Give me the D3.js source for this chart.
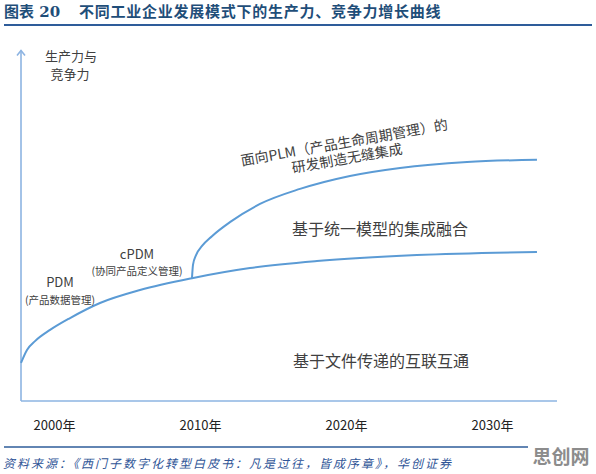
<!DOCTYPE html>
<html>
<head>
<meta charset="utf-8">
<script src="https://cdn.jsdelivr.net/npm/d3@7"></script>
<style>
  body { margin: 0; background: #fff; }
  svg { display: block; font-family: "Noto Sans CJK SC", "Noto Sans", sans-serif; }
</style>
</head>
<body>
<div id="chart"></div>
<script>
// x tick labels (years)
var years = [2000, 2010, 2020, 2030];

// file-based interconnection curve (lower)
var baseYears  = [1997.74, 1998.15, 1998.70, 1999.73, 2001.10, 2003.15, 2005.89, 2009.45, 2013.42, 2018.01, 2024.86, 2033.08];
var baseValues = [10.9, 14.6, 17.1, 20.3, 23.7, 28.0, 31.7, 35.1, 38.0, 40.0, 41.7, 42.6];

// PLM seamless integration curve (upper), branches off at ~2009.5
var plmYears  = [2009.45, 2009.52, 2009.73, 2010.14, 2010.82, 2012.05, 2014.11, 2016.85, 2020.27, 2023.70, 2028.29, 2033.08];
var plmValues = [35.1, 38.9, 41.7, 44.3, 47.1, 51.1, 56.3, 60.6, 64.3, 66.6, 68.3, 68.9];

var width = 596,
  height = 474,
  lineColor = "#5b9bd5",
  axisColor = "#8db4e2",
  textColor = "#404040";

var svg = d3.select("#chart").append("svg")
  .attr("width", width)
  .attr("height", height);

var x = d3.scaleLinear().domain([2000, 2030]).range([54, 492]);
var y = d3.scaleLinear().domain([0, 100]).range([401, 51]);

// title
svg.append("text")
  .attr("x", 4).attr("y", 17)
  .attr("fill", "#1f4e79")
  .attr("font-size", 15).attr("font-weight", "bold")
  .attr("font-family", "'DejaVu Serif', 'Noto Sans CJK SC', serif")
  .text("图表 20");
svg.append("text")
  .attr("x", 79).attr("y", 17)
  .attr("fill", "#1f4e79")
  .attr("font-size", 15).attr("font-weight", "bold")
  .style("letter-spacing", "0.75px")
  .text("不同工业企业发展模式下的生产力、竞争力增长曲线");
svg.append("line")
  .attr("x1", 4).attr("x2", 592).attr("y1", 25).attr("y2", 25)
  .attr("stroke", "#2e5c9a").attr("stroke-width", 2);

// axes frame
var x0 = x(1997.74);
svg.append("line")
  .attr("x1", x0).attr("x2", x0).attr("y1", y(0)).attr("y2", 50.5)
  .attr("stroke", axisColor).attr("stroke-width", 1.6);
svg.append("path")
  .attr("d", "M" + (x0 - 4) + "," + 55.5 + "L" + x0 + "," + 50.5 + "L" + (x0 + 4) + "," + 55.5)
  .attr("fill", "none").attr("stroke", axisColor).attr("stroke-width", 1.6);
svg.append("line")
  .attr("x1", x0).attr("x2", 557).attr("y1", y(0)).attr("y2", y(0))
  .attr("stroke", axisColor).attr("stroke-width", 1.6);

// year labels
var xAxis = d3.axisBottom(x)
  .tickValues(years)
  .tickSize(0)
  .tickPadding(20)
  .tickFormat(function(d) { return d + "年"; });
var gx = svg.append("g")
  .attr("transform", "translate(0," + y(0) + ")")
  .call(xAxis);
gx.select(".domain").remove();
gx.selectAll("text")
  .attr("font-size", 13)
  .attr("font-family", "'Noto Sans CJK SC', sans-serif")
  .attr("fill", "#222");

// y axis label
svg.append("text")
  .attr("x", 71).attr("y", 55)
  .attr("text-anchor", "middle").attr("dominant-baseline", "central")
  .attr("font-size", 13).attr("fill", textColor)
  .text("生产力与");
svg.append("text")
  .attr("x", 70).attr("y", 73.5)
  .attr("text-anchor", "middle").attr("dominant-baseline", "central")
  .attr("font-size", 13).attr("fill", textColor)
  .text("竞争力");

// curves
var line = d3.line()
  .x(function(d) { return x(d[0]); })
  .y(function(d) { return y(d[1]); })
  .curve(d3.curveMonotoneX);

svg.append("path")
  .datum(d3.zip(baseYears, baseValues))
  .attr("d", line)
  .attr("fill", "none").attr("stroke", lineColor).attr("stroke-width", 2);

svg.append("path")
  .datum(d3.zip(plmYears, plmValues))
  .attr("d", line)
  .attr("fill", "none").attr("stroke", lineColor).attr("stroke-width", 2);

// annotations
function label(tx, ty, size, str) {
  svg.append("text")
    .attr("x", tx).attr("y", ty)
    .attr("text-anchor", "middle").attr("dominant-baseline", "central")
    .attr("font-size", size).attr("fill", textColor)
    .text(str);
}
label(60, 281.5, 13, "PDM");
label(60, 299.5, 10.5, "(产品数据管理)");
label(137, 253, 13, "cPDM");
label(137, 270.5, 10.5, "(协同产品定义管理)");
label(380, 228, 16, "基于统一模型的集成融合");
label(381, 360, 16, "基于文件传递的互联互通");

var rot = svg.append("g")
  .attr("transform", "translate(345.5,149.5) rotate(-10)");
rot.append("text")
  .attr("x", 0).attr("y", -8)
  .attr("text-anchor", "middle").attr("dominant-baseline", "central")
  .attr("font-size", 14).attr("fill", textColor)
  .text("面向PLM（产品生命周期管理）的");
rot.append("text")
  .attr("x", 0).attr("y", 8)
  .attr("text-anchor", "middle").attr("dominant-baseline", "central")
  .attr("font-size", 14).attr("fill", textColor)
  .text("研发制造无缝集成");

// footer
svg.append("line")
  .attr("x1", 4).attr("x2", 528).attr("y1", 447).attr("y2", 447)
  .attr("stroke", "#2e5c9a").attr("stroke-width", 1.5);
svg.append("text")
  .attr("x", 3).attr("y", 462)
  .attr("dominant-baseline", "central")
  .attr("font-size", 12).attr("font-style", "italic")
  .style("letter-spacing", "2px")
  .attr("fill", "#2f5597")
  .text("资料来源：《西门子数字化转型白皮书：凡是过往，皆成序章》，华创证券");
svg.append("text")
  .attr("x", 561).attr("y", 455)
  .attr("text-anchor", "middle").attr("dominant-baseline", "central")
  .attr("font-size", 19).attr("font-weight", "bold")
  .attr("fill", "#8c8c8c")
  .text("思创网");
</script>
</body>
</html>
